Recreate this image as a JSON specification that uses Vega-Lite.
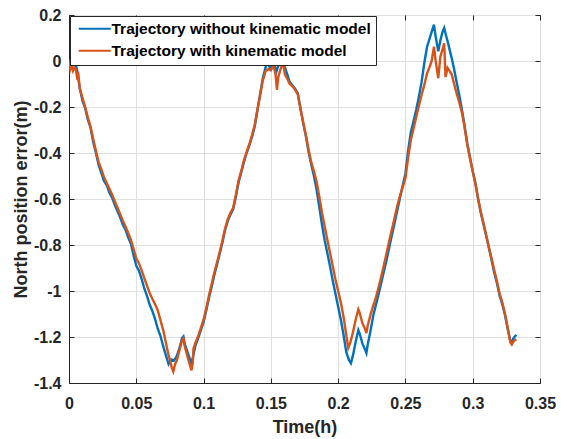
{
  "$schema": "https://vega.github.io/schema/vega-lite/v6.json",
  "width": 471,
  "height": 368,
  "autosize": {"type": "none"},
  "padding": {"left": 69, "top": 15, "right": 21, "bottom": 56},
  "background": "white",
  "config": {
    "font": "Liberation Sans",
    "view": {"stroke": "#262626", "strokeWidth": 1},
    "axis": {
      "domainColor": "#262626",
      "domainWidth": 1,
      "tickColor": "#262626",
      "tickWidth": 1,
      "tickSize": -5,
      "labelFont": "Liberation Sans",
      "labelFontSize": 16,
      "labelFontWeight": "bold",
      "labelColor": "#262626",
      "gridColor": "#e0e0e0",
      "gridWidth": 1,
      "titleFont": "Liberation Sans",
      "titleFontSize": 18,
      "titleFontWeight": "bold",
      "titleColor": "#262626"
    }
  },
  "datasets": {
    "blue": [
      {"t":0.000,"y":0.004},{"t":0.002,"y":-0.003},{"t":0.004,"y":0.006},{"t":0.006,"y":-0.04},{"t":0.008,"y":-0.118},
      {"t":0.010,"y":-0.172},{"t":0.012,"y":-0.205},{"t":0.014,"y":-0.255},{"t":0.016,"y":-0.29},{"t":0.018,"y":-0.352},
      {"t":0.020,"y":-0.40},{"t":0.022,"y":-0.452},{"t":0.024,"y":-0.486},{"t":0.026,"y":-0.522},{"t":0.028,"y":-0.54},
      {"t":0.030,"y":-0.572},{"t":0.032,"y":-0.594},{"t":0.034,"y":-0.625},{"t":0.036,"y":-0.652},{"t":0.038,"y":-0.68},
      {"t":0.040,"y":-0.712},{"t":0.042,"y":-0.733},{"t":0.044,"y":-0.768},{"t":0.046,"y":-0.795},{"t":0.048,"y":-0.845},
      {"t":0.050,"y":-0.89},{"t":0.052,"y":-0.912},{"t":0.054,"y":-0.948},{"t":0.056,"y":-0.99},{"t":0.058,"y":-1.022},
      {"t":0.060,"y":-1.06},{"t":0.062,"y":-1.088},{"t":0.064,"y":-1.122},{"t":0.066,"y":-1.165},{"t":0.068,"y":-1.196},
      {"t":0.070,"y":-1.24},{"t":0.072,"y":-1.28},{"t":0.074,"y":-1.318},{"t":0.076,"y":-1.298},{"t":0.078,"y":-1.302},
      {"t":0.080,"y":-1.285},{"t":0.082,"y":-1.25},{"t":0.084,"y":-1.205},{"t":0.085,"y":-1.198},{"t":0.086,"y":-1.23},
      {"t":0.088,"y":-1.265},{"t":0.090,"y":-1.298},{"t":0.091,"y":-1.318},{"t":0.092,"y":-1.29},{"t":0.094,"y":-1.236},
      {"t":0.096,"y":-1.205},{"t":0.098,"y":-1.17},{"t":0.100,"y":-1.135},{"t":0.102,"y":-1.085},{"t":0.104,"y":-1.03},
      {"t":0.106,"y":-0.982},{"t":0.108,"y":-0.93},{"t":0.110,"y":-0.885},{"t":0.112,"y":-0.838},{"t":0.114,"y":-0.79},
      {"t":0.116,"y":-0.735},{"t":0.118,"y":-0.695},{"t":0.120,"y":-0.668},{"t":0.122,"y":-0.645},{"t":0.124,"y":-0.59},
      {"t":0.126,"y":-0.528},{"t":0.128,"y":-0.485},{"t":0.130,"y":-0.44},{"t":0.132,"y":-0.40},{"t":0.134,"y":-0.368},
      {"t":0.136,"y":-0.33},{"t":0.138,"y":-0.285},{"t":0.140,"y":-0.215},{"t":0.142,"y":-0.145},{"t":0.144,"y":-0.075},
      {"t":0.146,"y":-0.03},{"t":0.147,"y":0.004},{"t":0.148,"y":-0.012},{"t":0.1495,"y":-0.032},{"t":0.150,"y":-0.02},
      {"t":0.152,"y":0.002},{"t":0.154,"y":-0.048},{"t":0.155,"y":-0.03},{"t":0.157,"y":-0.002},{"t":0.159,"y":0.006},
      {"t":0.160,"y":-0.02},{"t":0.162,"y":-0.055},{"t":0.164,"y":-0.092},{"t":0.166,"y":-0.105},{"t":0.168,"y":-0.12},
      {"t":0.170,"y":-0.14},{"t":0.172,"y":-0.205},{"t":0.174,"y":-0.27},{"t":0.176,"y":-0.325},{"t":0.178,"y":-0.395},
      {"t":0.180,"y":-0.45},{"t":0.182,"y":-0.5},{"t":0.184,"y":-0.56},{"t":0.186,"y":-0.635},{"t":0.188,"y":-0.712},
      {"t":0.190,"y":-0.78},{"t":0.192,"y":-0.836},{"t":0.194,"y":-0.894},{"t":0.196,"y":-0.955},{"t":0.198,"y":-1.012},
      {"t":0.200,"y":-1.068},{"t":0.202,"y":-1.125},{"t":0.204,"y":-1.19},{"t":0.206,"y":-1.265},{"t":0.208,"y":-1.3},
      {"t":0.2095,"y":-1.314},{"t":0.211,"y":-1.28},{"t":0.213,"y":-1.222},{"t":0.215,"y":-1.17},{"t":0.216,"y":-1.185},
      {"t":0.218,"y":-1.228},{"t":0.220,"y":-1.255},{"t":0.221,"y":-1.27},{"t":0.222,"y":-1.232},{"t":0.224,"y":-1.175},
      {"t":0.226,"y":-1.11},{"t":0.228,"y":-1.062},{"t":0.230,"y":-1.015},{"t":0.232,"y":-0.965},{"t":0.234,"y":-0.915},
      {"t":0.236,"y":-0.865},{"t":0.238,"y":-0.81},{"t":0.240,"y":-0.755},{"t":0.242,"y":-0.703},{"t":0.244,"y":-0.648},
      {"t":0.246,"y":-0.595},{"t":0.248,"y":-0.54},{"t":0.250,"y":-0.49},{"t":0.252,"y":-0.39},{"t":0.254,"y":-0.31},
      {"t":0.256,"y":-0.262},{"t":0.258,"y":-0.212},{"t":0.260,"y":-0.155},{"t":0.262,"y":-0.092},{"t":0.264,"y":-0.01},
      {"t":0.266,"y":0.06},{"t":0.268,"y":0.098},{"t":0.2695,"y":0.127},{"t":0.2712,"y":0.158},{"t":0.2725,"y":0.105},
      {"t":0.2744,"y":0.042},{"t":0.276,"y":0.09},{"t":0.2775,"y":0.125},{"t":0.2788,"y":0.143},{"t":0.280,"y":0.115},
      {"t":0.2815,"y":0.082},{"t":0.283,"y":0.045},{"t":0.2845,"y":0.01},{"t":0.286,"y":-0.03},{"t":0.288,"y":-0.09},
      {"t":0.290,"y":-0.148},{"t":0.292,"y":-0.212},{"t":0.294,"y":-0.282},{"t":0.296,"y":-0.36},{"t":0.298,"y":-0.42},
      {"t":0.300,"y":-0.478},{"t":0.302,"y":-0.53},{"t":0.304,"y":-0.6},{"t":0.306,"y":-0.66},{"t":0.308,"y":-0.71},
      {"t":0.310,"y":-0.76},{"t":0.312,"y":-0.812},{"t":0.314,"y":-0.865},{"t":0.316,"y":-0.92},{"t":0.318,"y":-0.965},
      {"t":0.320,"y":-1.02},{"t":0.322,"y":-1.058},{"t":0.324,"y":-1.104},{"t":0.326,"y":-1.165},{"t":0.328,"y":-1.218},
      {"t":0.329,"y":-1.228},{"t":0.330,"y":-1.208},{"t":0.331,"y":-1.2},{"t":0.3325,"y":-1.19}
    ],
    "orange": [
      {"t":0.000,"y":-0.005},{"t":0.001,"y":-0.035},{"t":0.002,"y":-0.018},{"t":0.003,"y":-0.042},{"t":0.004,"y":-0.028},
      {"t":0.005,"y":-0.035},{"t":0.006,"y":-0.07},{"t":0.007,"y":-0.06},{"t":0.008,"y":-0.12},{"t":0.010,"y":-0.16},
      {"t":0.012,"y":-0.2},{"t":0.014,"y":-0.245},{"t":0.016,"y":-0.285},{"t":0.018,"y":-0.34},{"t":0.020,"y":-0.39},
      {"t":0.022,"y":-0.44},{"t":0.024,"y":-0.47},{"t":0.026,"y":-0.505},{"t":0.028,"y":-0.53},{"t":0.030,"y":-0.555},
      {"t":0.032,"y":-0.58},{"t":0.034,"y":-0.61},{"t":0.036,"y":-0.637},{"t":0.038,"y":-0.665},{"t":0.040,"y":-0.695},
      {"t":0.042,"y":-0.72},{"t":0.044,"y":-0.748},{"t":0.046,"y":-0.778},{"t":0.048,"y":-0.818},{"t":0.050,"y":-0.858},
      {"t":0.052,"y":-0.88},{"t":0.054,"y":-0.91},{"t":0.056,"y":-0.945},{"t":0.058,"y":-0.978},{"t":0.060,"y":-1.01},
      {"t":0.062,"y":-1.035},{"t":0.064,"y":-1.058},{"t":0.066,"y":-1.085},{"t":0.068,"y":-1.128},{"t":0.070,"y":-1.17},
      {"t":0.072,"y":-1.225},{"t":0.074,"y":-1.28},{"t":0.075,"y":-1.30},{"t":0.0765,"y":-1.335},{"t":0.0775,"y":-1.35},
      {"t":0.079,"y":-1.315},{"t":0.080,"y":-1.305},{"t":0.082,"y":-1.26},{"t":0.084,"y":-1.215},{"t":0.085,"y":-1.205},
      {"t":0.086,"y":-1.24},{"t":0.088,"y":-1.285},{"t":0.090,"y":-1.325},{"t":0.091,"y":-1.345},{"t":0.092,"y":-1.31},
      {"t":0.0925,"y":-1.25},{"t":0.094,"y":-1.225},{"t":0.096,"y":-1.195},{"t":0.098,"y":-1.16},{"t":0.100,"y":-1.125},
      {"t":0.102,"y":-1.075},{"t":0.104,"y":-1.02},{"t":0.106,"y":-0.97},{"t":0.108,"y":-0.92},{"t":0.110,"y":-0.875},
      {"t":0.112,"y":-0.83},{"t":0.114,"y":-0.78},{"t":0.116,"y":-0.728},{"t":0.118,"y":-0.688},{"t":0.120,"y":-0.66},
      {"t":0.122,"y":-0.638},{"t":0.124,"y":-0.582},{"t":0.126,"y":-0.52},{"t":0.128,"y":-0.478},{"t":0.130,"y":-0.432},
      {"t":0.132,"y":-0.395},{"t":0.134,"y":-0.362},{"t":0.136,"y":-0.322},{"t":0.138,"y":-0.278},{"t":0.140,"y":-0.212},
      {"t":0.142,"y":-0.15},{"t":0.144,"y":-0.085},{"t":0.146,"y":-0.045},{"t":0.148,"y":-0.035},{"t":0.150,"y":-0.04},
      {"t":0.152,"y":-0.02},{"t":0.1535,"y":-0.06},{"t":0.1545,"y":-0.125},{"t":0.1555,"y":-0.07},{"t":0.157,"y":-0.04},
      {"t":0.159,"y":-0.005},{"t":0.1605,"y":-0.06},{"t":0.162,"y":-0.075},{"t":0.164,"y":-0.1},{"t":0.166,"y":-0.11},
      {"t":0.168,"y":-0.125},{"t":0.170,"y":-0.145},{"t":0.172,"y":-0.208},{"t":0.174,"y":-0.265},{"t":0.176,"y":-0.322},
      {"t":0.178,"y":-0.385},{"t":0.180,"y":-0.44},{"t":0.182,"y":-0.48},{"t":0.184,"y":-0.525},{"t":0.186,"y":-0.59},
      {"t":0.188,"y":-0.66},{"t":0.190,"y":-0.72},{"t":0.192,"y":-0.778},{"t":0.194,"y":-0.835},{"t":0.196,"y":-0.892},
      {"t":0.198,"y":-0.95},{"t":0.200,"y":-1.0},{"t":0.202,"y":-1.05},{"t":0.204,"y":-1.112},{"t":0.206,"y":-1.19},
      {"t":0.2075,"y":-1.248},{"t":0.209,"y":-1.225},{"t":0.211,"y":-1.18},{"t":0.213,"y":-1.125},{"t":0.215,"y":-1.08},
      {"t":0.216,"y":-1.095},{"t":0.218,"y":-1.14},{"t":0.220,"y":-1.165},{"t":0.221,"y":-1.183},{"t":0.222,"y":-1.15},
      {"t":0.224,"y":-1.105},{"t":0.226,"y":-1.065},{"t":0.228,"y":-1.03},{"t":0.230,"y":-0.985},{"t":0.232,"y":-0.938},
      {"t":0.234,"y":-0.888},{"t":0.236,"y":-0.835},{"t":0.238,"y":-0.782},{"t":0.240,"y":-0.73},{"t":0.242,"y":-0.68},
      {"t":0.244,"y":-0.628},{"t":0.246,"y":-0.585},{"t":0.248,"y":-0.548},{"t":0.250,"y":-0.51},{"t":0.252,"y":-0.42},
      {"t":0.254,"y":-0.345},{"t":0.256,"y":-0.295},{"t":0.258,"y":-0.245},{"t":0.260,"y":-0.195},{"t":0.262,"y":-0.148},
      {"t":0.264,"y":-0.105},{"t":0.266,"y":-0.055},{"t":0.268,"y":-0.025},{"t":0.2695,"y":0.0},{"t":0.2712,"y":0.062},
      {"t":0.2725,"y":0.0},{"t":0.2744,"y":-0.075},{"t":0.276,"y":0.02},{"t":0.2775,"y":0.05},{"t":0.2788,"y":0.077},
      {"t":0.2798,"y":-0.07},{"t":0.2813,"y":-0.03},{"t":0.283,"y":-0.045},{"t":0.2845,"y":-0.06},{"t":0.286,"y":-0.095},
      {"t":0.288,"y":-0.14},{"t":0.290,"y":-0.18},{"t":0.292,"y":-0.225},{"t":0.294,"y":-0.29},{"t":0.296,"y":-0.365},
      {"t":0.298,"y":-0.425},{"t":0.300,"y":-0.48},{"t":0.302,"y":-0.535},{"t":0.304,"y":-0.598},{"t":0.306,"y":-0.655},
      {"t":0.308,"y":-0.705},{"t":0.310,"y":-0.757},{"t":0.312,"y":-0.81},{"t":0.314,"y":-0.858},{"t":0.316,"y":-0.91},
      {"t":0.318,"y":-0.958},{"t":0.320,"y":-1.012},{"t":0.322,"y":-1.05},{"t":0.324,"y":-1.1},{"t":0.326,"y":-1.16},
      {"t":0.328,"y":-1.225},{"t":0.329,"y":-1.232},{"t":0.330,"y":-1.222},{"t":0.331,"y":-1.215},{"t":0.3325,"y":-1.21}
    ]
  },
  "layer": [
    {
      "data": {"name": "blue"},
      "mark": {"type": "line", "strokeWidth": 2.4, "clip": true},
      "encoding": {
        "x": {
          "field": "t", "type": "quantitative",
          "scale": {"domain": [0, 0.35], "nice": false, "zero": false},
          "axis": {
            "values": [0, 0.05, 0.1, 0.15, 0.2, 0.25, 0.3, 0.35],
            "labelExpr": "toString(datum.value)",
            "labelPadding": 17.5,
            "labelFlush": false,
            "title": "Time(h)",
            "titleX": 235.5, "titleY": 49, "titleAlign": "center", "titleBaseline": "alphabetic",
            "grid": true
          }
        },
        "y": {
          "field": "y", "type": "quantitative",
          "scale": {"domain": [-1.4, 0.2], "nice": false, "zero": false},
          "axis": {
            "values": [-1.4, -1.2, -1, -0.8, -0.6, -0.4, -0.2, 0, 0.2],
            "labelExpr": "toString(datum.value)",
            "labelPadding": 13,
            "labelFlush": false,
            "title": "North position error(m)",
            "titleX": -48, "titleY": 184, "titleAngle": -90, "titleAlign": "center", "titleBaseline": "middle",
            "grid": true
          }
        },
        "color": {
          "datum": "Trajectory without kinematic model",
          "type": "nominal",
          "scale": {
            "domain": ["Trajectory without kinematic model", "Trajectory with kinematic model"],
            "range": ["#0072BD", "#D95319"]
          },
          "legend": {
            "orient": "none", "legendX": 1, "legendY": 1,
            "title": null,
            "fillColor": "white", "strokeColor": "#262626",
            "padding": 5, "rowPadding": 5,
            "symbolType": "M-1,0H7", "symbolSize": 64, "symbolStrokeWidth": 2,
            "labelOffset": 21,
            "labelFont": "Liberation Sans", "labelFontSize": 15.5, "labelFontWeight": "bold",
            "labelColor": "#000000", "labelLimit": 500
          }
        }
      }
    },
    {
      "data": {"name": "orange"},
      "mark": {"type": "line", "strokeWidth": 2.4, "clip": true},
      "encoding": {
        "x": {"field": "t", "type": "quantitative", "axis": null},
        "y": {"field": "y", "type": "quantitative", "axis": null},
        "color": {"datum": "Trajectory with kinematic model", "type": "nominal"}
      }
    },
    {
      "data": {"name": "blue"},
      "mark": {"type": "point", "opacity": 0},
      "encoding": {
        "x": {
          "field": "t", "type": "quantitative",
          "axis": {"orient": "top", "values": [0, 0.05, 0.1, 0.15, 0.2, 0.25, 0.3, 0.35], "labels": false, "title": null, "grid": false, "domain": false}
        },
        "y": {
          "field": "y", "type": "quantitative",
          "axis": {"orient": "right", "values": [-1.4, -1.2, -1, -0.8, -0.6, -0.4, -0.2, 0, 0.2], "labels": false, "title": null, "grid": false, "domain": false}
        }
      }
    }
  ],
  "resolve": {"axis": {"x": "independent", "y": "independent"}}
}
